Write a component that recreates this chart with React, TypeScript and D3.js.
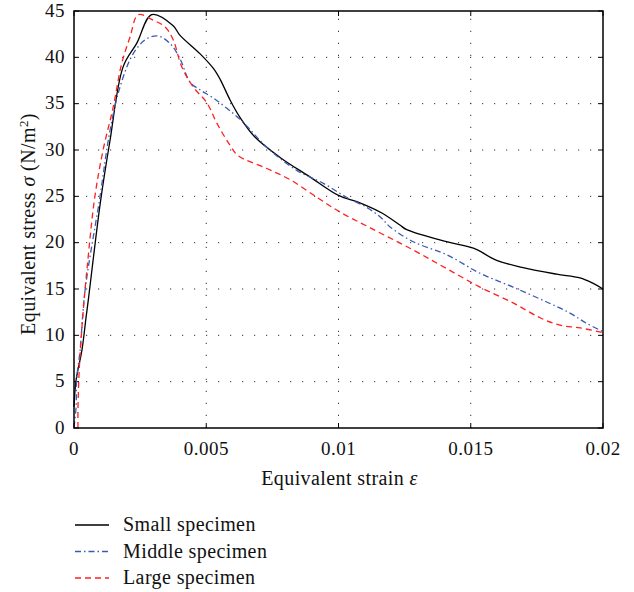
import React from "react";
import * as d3 from "d3";

const xTicks = [0, 0.005, 0.01, 0.015, 0.02];
const xTickLabels = ["0", "0.005", "0.01", "0.015", "0.02"];
const yTicks = [0, 5, 10, 15, 20, 25, 30, 35, 40, 45];

const smallStrain = [0, 0.00008, 0.0003, 0.00045, 0.00054, 0.001, 0.00136, 0.00186, 0.00237, 0.00294, 0.00375, 0.004, 0.00476, 0.00527, 0.00553, 0.0059, 0.00628, 0.00684, 0.00779, 0.00892, 0.01, 0.01081, 0.01164, 0.01232, 0.01258, 0.01409, 0.0151, 0.01598, 0.01698, 0.01825, 0.01913, 0.01963, 0.02];
const smallStress = [2.3, 5.2, 8.4, 11.8, 13.8, 24.4, 31, 39, 41.5, 44.6, 43.4, 42.4, 40.4, 38.8, 37.6, 35.4, 33.5, 31.4, 29.2, 27.1, 25.1, 24.3, 23.2, 21.9, 21.4, 20.1, 19.4, 18.1, 17.3, 16.6, 16.2, 15.6, 15.0];

const middleStrain = [0, 0.00008, 0.0001, 0.00023, 0.00042, 0.00098, 0.00136, 0.00174, 0.00224, 0.00275, 0.00319, 0.00363, 0.004, 0.00439, 0.00476, 0.00527, 0.00578, 0.00639, 0.00729, 0.00842, 0.00943, 0.0103, 0.01107, 0.01157, 0.01195, 0.01283, 0.01409, 0.01535, 0.0166, 0.01787, 0.01875, 0.01938, 0.02];
const middleStress = [0.1, 2.3, 5.2, 8.4, 14.9, 24.9, 32.1, 36.8, 40.4, 42.0, 42.3, 41.5, 39.9, 37.3, 36.5, 35.6, 34.5, 33, 30.3, 27.8, 26.4, 24.9, 23.8, 22.8, 21.7, 20.1, 18.7, 16.7, 15.2, 13.6, 12.4, 11.3, 10.4];

const largeStrain = [0.00015, 0.00015, 0.0002, 0.00033, 0.0005, 0.00078, 0.0011, 0.00148, 0.0018, 0.00212, 0.00243, 0.003, 0.00344, 0.00375, 0.00407, 0.00451, 0.00502, 0.0054, 0.0059, 0.0062, 0.00729, 0.00817, 0.00918, 0.01006, 0.0112, 0.01283, 0.01409, 0.01535, 0.0166, 0.01762, 0.01837, 0.01913, 0.02];
const largeStress = [0, 2, 6.4, 12, 17.4, 24.8, 30, 34.6, 39.3, 42.2, 44.6, 44.0, 43.3, 41.9, 39.0, 36.8, 35.1, 32.9, 30.5, 29.4, 28.0, 26.8, 24.9, 23.3, 21.6, 19.2, 17.2, 15.2, 13.5, 11.9, 11.1, 10.8, 10.3];

const seriesNames = ["Small specimen", "Middle specimen", "Large specimen"];
const seriesColors = ["#000000", "#3a5bb0", "#ff2020"];
const seriesDash = ["none", "6,3,1.5,3", "6,4"];

const W = 634;
const H = 592;
const left = 74, right = 603, top = 11, bottom = 428;
const font = "'Liberation Serif', 'DejaVu Serif', serif";

export default function App() {
  const x = d3.scaleLinear().domain([0, 0.02]).range([left, right]);
  const y = d3.scaleLinear().domain([0, 45]).range([bottom, top]);
  const data: [number, number][][] = [
    smallStrain.map((s, i) => [s, smallStress[i]] as [number, number]),
    middleStrain.map((s, i) => [s, middleStress[i]] as [number, number]),
    largeStrain.map((s, i) => [s, largeStress[i]] as [number, number]),
  ];
  const gen = d3
    .line<[number, number]>()
    .x((d) => x(d[0]))
    .y((d) => y(d[1]))
    .curve(d3.curveCatmullRom.alpha(0.5));
  return (
    <svg width={W} height={H} style={{ position: "absolute", left: 0, top: 0 }}>
      <rect x={0} y={0} width={W} height={H} fill="#fff" />
      {xTicks.slice(1, -1).map((t) => (
        <line key={"gx" + t} x1={x(t)} x2={x(t)} y1={bottom} y2={top} stroke="#333" strokeWidth={1} strokeDasharray="1.2,10.8" />
      ))}
      {yTicks.slice(1, -1).map((t) => (
        <line key={"gy" + t} x1={left} x2={right} y1={y(t)} y2={y(t)} stroke="#333" strokeWidth={1} strokeDasharray="1.2,10.8" />
      ))}
      {xTicks.map((t, i) => (
        <g key={"tx" + t}>
          <line x1={x(t)} x2={x(t)} y1={bottom} y2={bottom - 5} stroke="#000" />
          <line x1={x(t)} x2={x(t)} y1={top} y2={top + 5} stroke="#000" />
          <text x={x(t)} y={bottom + 27} textAnchor="middle" fontFamily={font} fontSize={19} letterSpacing={0.5} fill="#111">
            {xTickLabels[i]}
          </text>
        </g>
      ))}
      {yTicks.map((t) => (
        <g key={"ty" + t}>
          <line x1={left} x2={left + 5} y1={y(t)} y2={y(t)} stroke="#000" />
          <line x1={right} x2={right - 5} y1={y(t)} y2={y(t)} stroke="#000" />
          <text x={left - 9} y={y(t) + 5.5} textAnchor="end" fontFamily={font} fontSize={19} letterSpacing={0.5} fill="#111">
            {t}
          </text>
        </g>
      ))}
      <g>
        {data.map((d, i) => (
          <path key={i} d={gen(d) || ""} fill="none" stroke={seriesColors[i]} strokeWidth={1.3} strokeDasharray={seriesDash[i]} />
        ))}
      </g>
      <rect x={left} y={top} width={right - left} height={bottom - top} fill="none" stroke="#000" strokeWidth={1.5} />
      <text x={(left + right) / 2 + 1} y={485} textAnchor="middle" fontFamily={font} fontSize={20} letterSpacing={0.4} fill="#111">
        Equivalent strain <tspan fontStyle="italic">ε</tspan>
      </text>
      <text transform={`translate(35, 224) rotate(-90)`} textAnchor="middle" fontFamily={font} fontSize={20} letterSpacing={0.4} fill="#111">
        Equivalent stress <tspan fontStyle="italic">σ</tspan> (N/m<tspan baselineShift="super" fontSize={13}>2</tspan>)
      </text>
      {seriesNames.map((n, i) => (
        <g key={n}>
          <line x1={75} x2={109} y1={525 + i * 26.5} y2={525 + i * 26.5} stroke={seriesColors[i]} strokeWidth={1.3} strokeDasharray={seriesDash[i]} />
          <text x={123} y={531 + i * 26.5} fontFamily={font} fontSize={20} letterSpacing={0.4} fill="#111">
            {n}
          </text>
        </g>
      ))}
    </svg>
  );
}
